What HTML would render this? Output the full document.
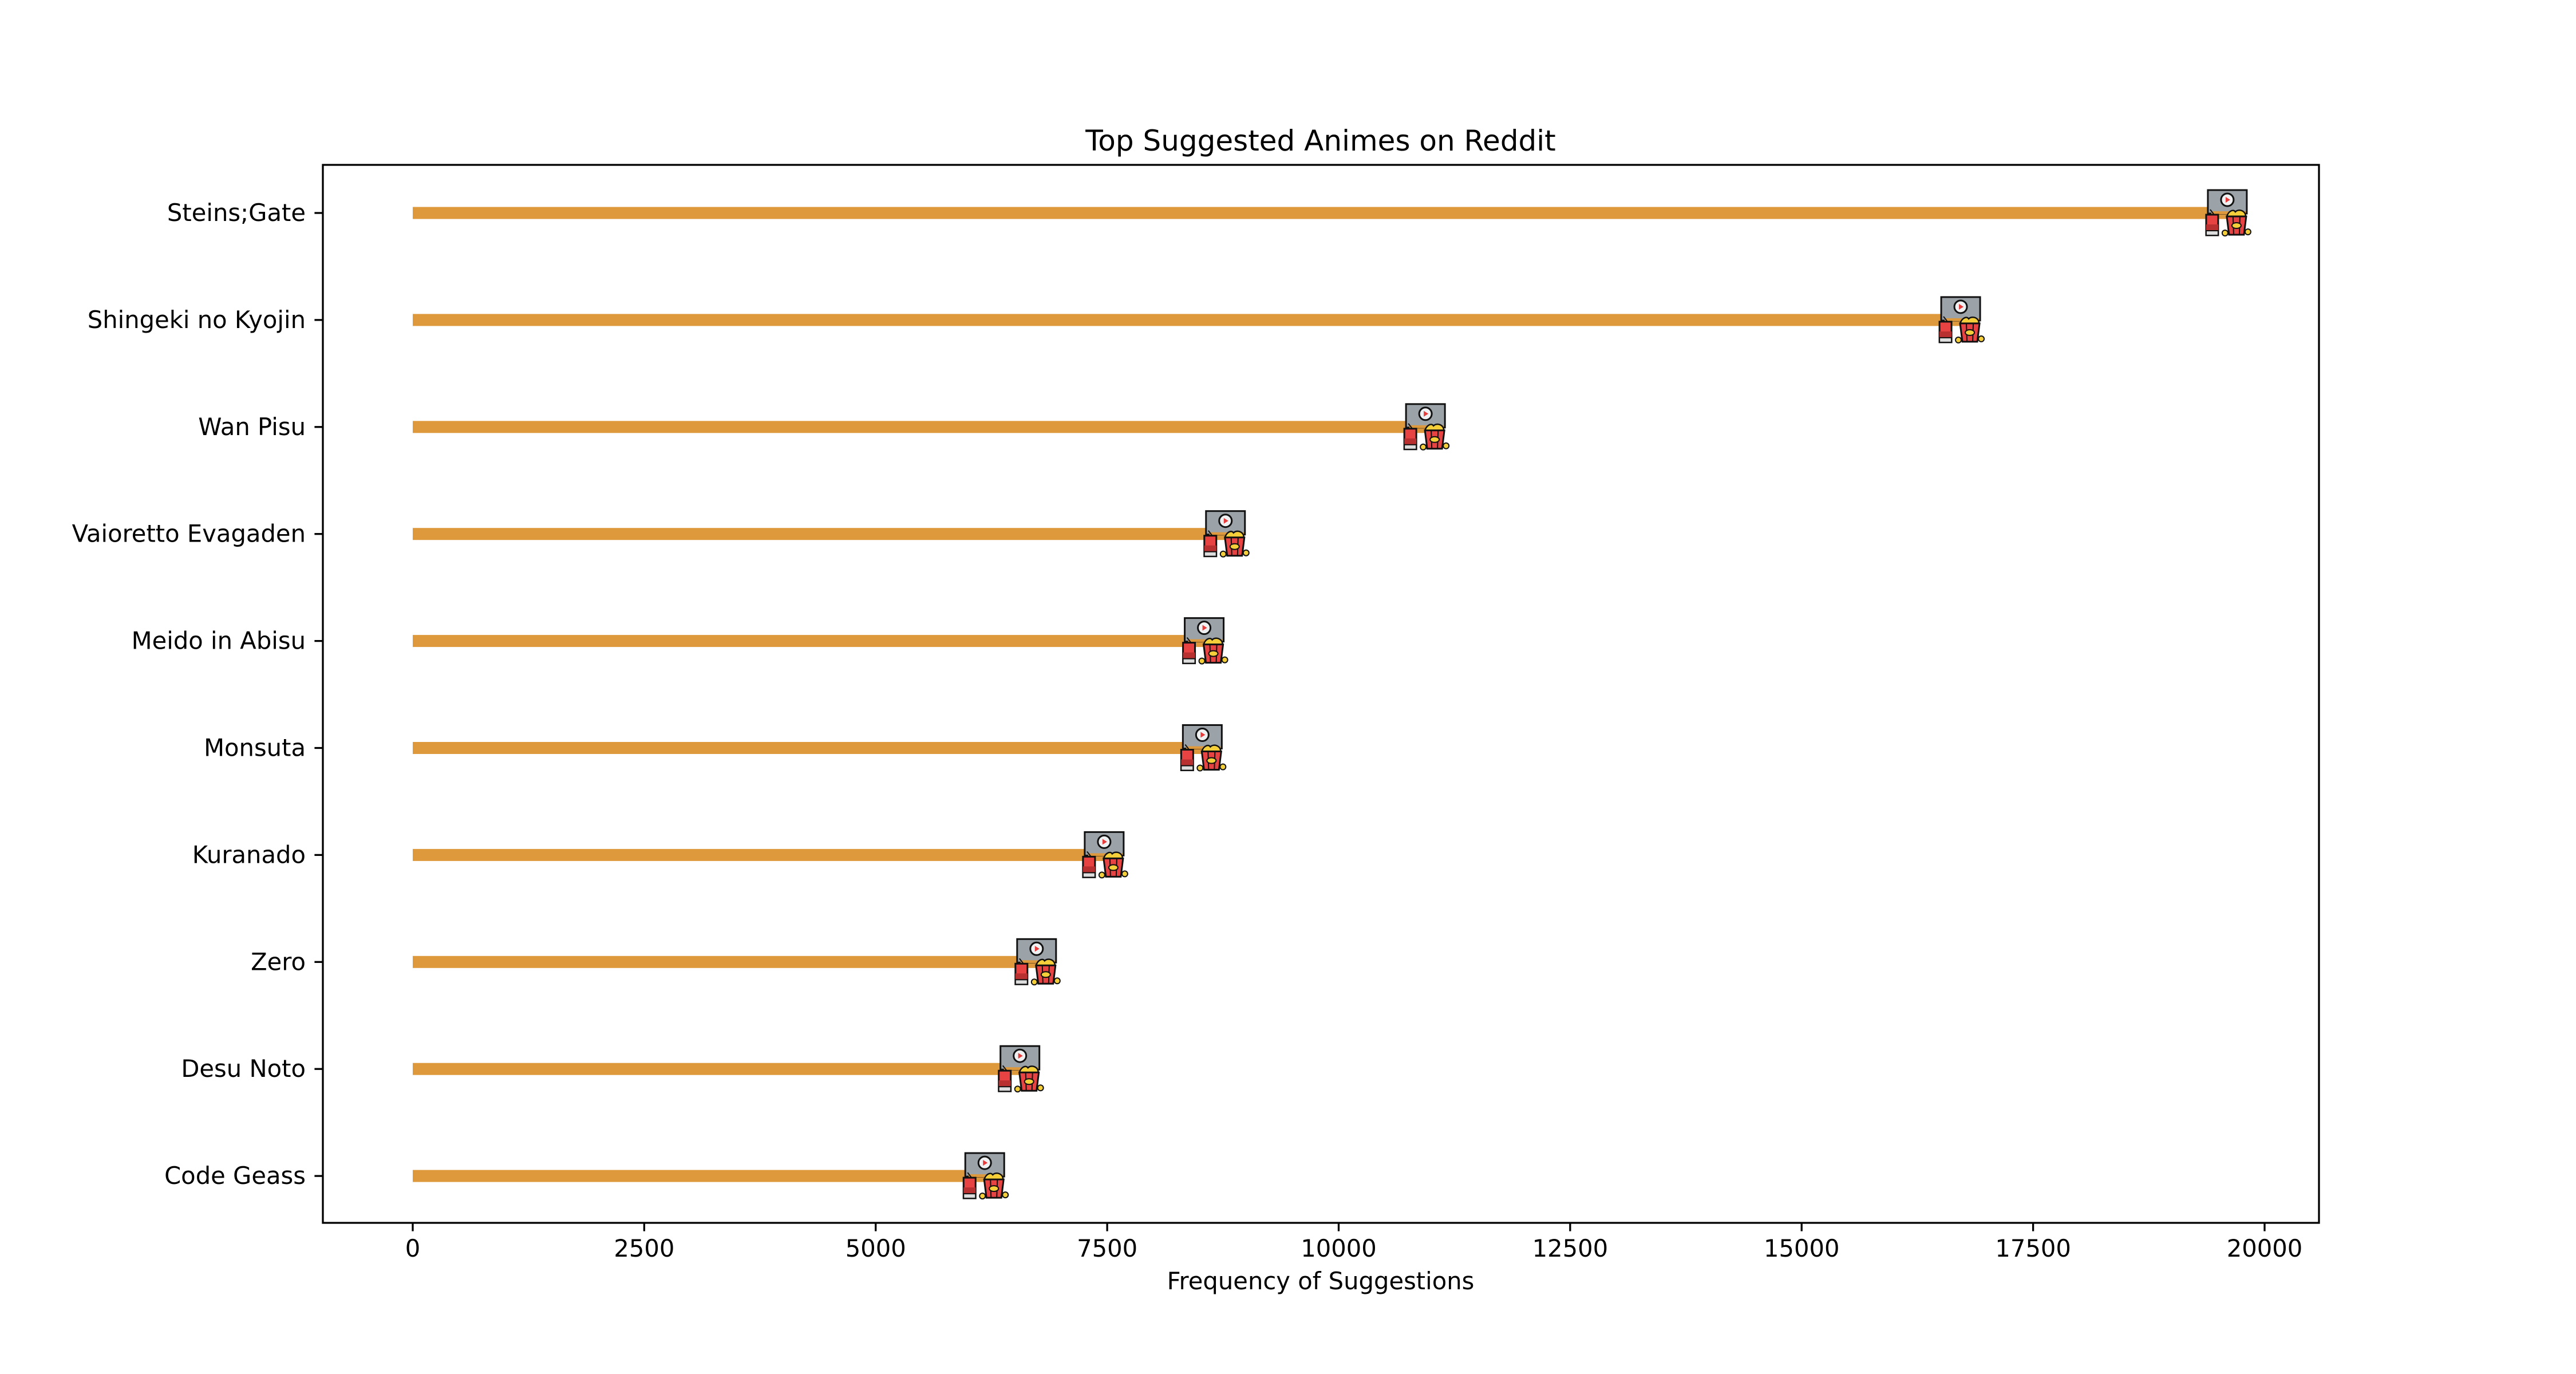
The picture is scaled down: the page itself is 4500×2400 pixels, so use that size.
<!DOCTYPE html>
<html><head><meta charset="utf-8"><style>
html,body{margin:0;padding:0;background:#fff}
svg{display:block}
text{font-family:"DejaVu Sans","Liberation Sans",sans-serif;fill:#000}
</style></head><body>
<svg id="chart" width="4500" height="2400" viewBox="0 0 4500 2400" xmlns="http://www.w3.org/2000/svg">
<rect width="4500" height="2400" fill="#fff"/>
<text x="2307" y="263" font-size="50" text-anchor="middle">Top Suggested Animes on Reddit</text>
<g id="bars"></g>
<g id="icons"></g>
<g id="axes"></g>
<text x="2307" y="2252" font-size="41.7" text-anchor="middle">Frequency of Suggestions</text>
</svg>
<script>
const categories = ["Steins;Gate","Shingeki no Kyojin","Wan Pisu","Vaioretto Evagaden","Meido in Abisu","Monsuta","Kuranado","Zero","Desu Noto","Code Geass"];
const values = [19610,16730,10950,8790,8560,8540,7480,6750,6570,6190];
const xTicks = [0,2500,5000,7500,10000,12500,15000,17500,20000];
const xTickLabels = ["0","2500","5000","7500","10000","12500","15000","17500","20000"];

const NS="http://www.w3.org/2000/svg";
const L=564,R=4051,T=288,B=2136;
function xs(v){return 721+(v/20000)*(3956-721);}
function ys(i){return 372+i*186.9;}
function mk(tag,attrs,parent){const e=document.createElementNS(NS,tag);for(const k in attrs)e.setAttribute(k,attrs[k]);parent.appendChild(e);return e;}
const bars=document.getElementById('bars'),icons=document.getElementById('icons'),axes=document.getElementById('axes');

categories.forEach((c,i)=>{
  const y=ys(i),x1=xs(values[i]);
  const b=mk('rect',{x:xs(0),y:y-10.5,width:x1-xs(0),height:21,fill:'#dd993c'},bars);
  
  
  const g=mk('g',{transform:'translate('+x1+','+y+')'},icons);
  
  
  const s='#111';
  mk('rect',{x:-36,y:-40,width:68,height:41,fill:'#9ca3a8',stroke:s,'stroke-width':3},g);
  mk('rect',{x:-30,y:-3,width:60,height:5,fill:'#dd993c'},g);
  mk('circle',{cx:-2,cy:-23,r:11,fill:'#eef0f2',stroke:s,'stroke-width':3},g);
  mk('path',{d:'M-5,-28 L3,-23 L-5,-18 Z',fill:'#e53c3c'},g);
  mk('line',{x1:-32,y1:-6,x2:-25,y2:3,stroke:s,'stroke-width':2},g);
  mk('rect',{x:-39,y:3,width:21,height:36,fill:'#e84343',stroke:s,'stroke-width':3},g);
  mk('rect',{x:-39,y:20,width:21,height:10,fill:'#b83030'},g);
  mk('rect',{x:-39,y:31,width:21,height:8,fill:'#ddd',stroke:s,'stroke-width':2},g);
  mk('path',{d:'M-3,8 C-2,-2 8,-8 12,-2 C18,-8 30,-4 30,6 Z',fill:'#f5cf3a',stroke:s,'stroke-width':2.5},g);
  mk('path',{d:'M-3,6 L31,6 L27,38 L1,38 Z',fill:'#e84343',stroke:s,'stroke-width':3},g);
  mk('line',{x1:8,y1:7,x2:9,y2:37,stroke:s,'stroke-width':2},g);
  mk('line',{x1:20,y1:7,x2:19,y2:37,stroke:s,'stroke-width':2},g);
  mk('ellipse',{cx:14,cy:22,rx:8,ry:5,fill:'#f5cf3a',stroke:s,'stroke-width':2},g);
  mk('circle',{cx:-6,cy:35,r:5,fill:'#f5cf3a',stroke:s,'stroke-width':2},g);
  mk('circle',{cx:34,cy:33,r:5,fill:'#f5cf3a',stroke:s,'stroke-width':2},g);
  const t=mk('text',{x:534,y:y+14,'font-size':41.7,'text-anchor':'end'},axes);
  t.textContent=c;
  
  
  const tk=mk('line',{x1:L-14.6,y1:y,x2:L,y2:y,stroke:'#000','stroke-width':3.3},axes);
  
  
});

xTicks.forEach((v,i)=>{
  const x=xs(v);
  const tk=mk('line',{x1:x,y1:B,x2:x,y2:B+14.6,stroke:'#000','stroke-width':3.3},axes);
  
  
  const t=mk('text',{x:x,y:2195,'font-size':41.7,'text-anchor':'middle'},axes);
  t.textContent=xTickLabels[i];
  
  
});

const fr=mk('rect',{x:L,y:T,width:R-L,height:B-T,fill:'none',stroke:'#000','stroke-width':3.3},axes);


</script>
</body></html>
